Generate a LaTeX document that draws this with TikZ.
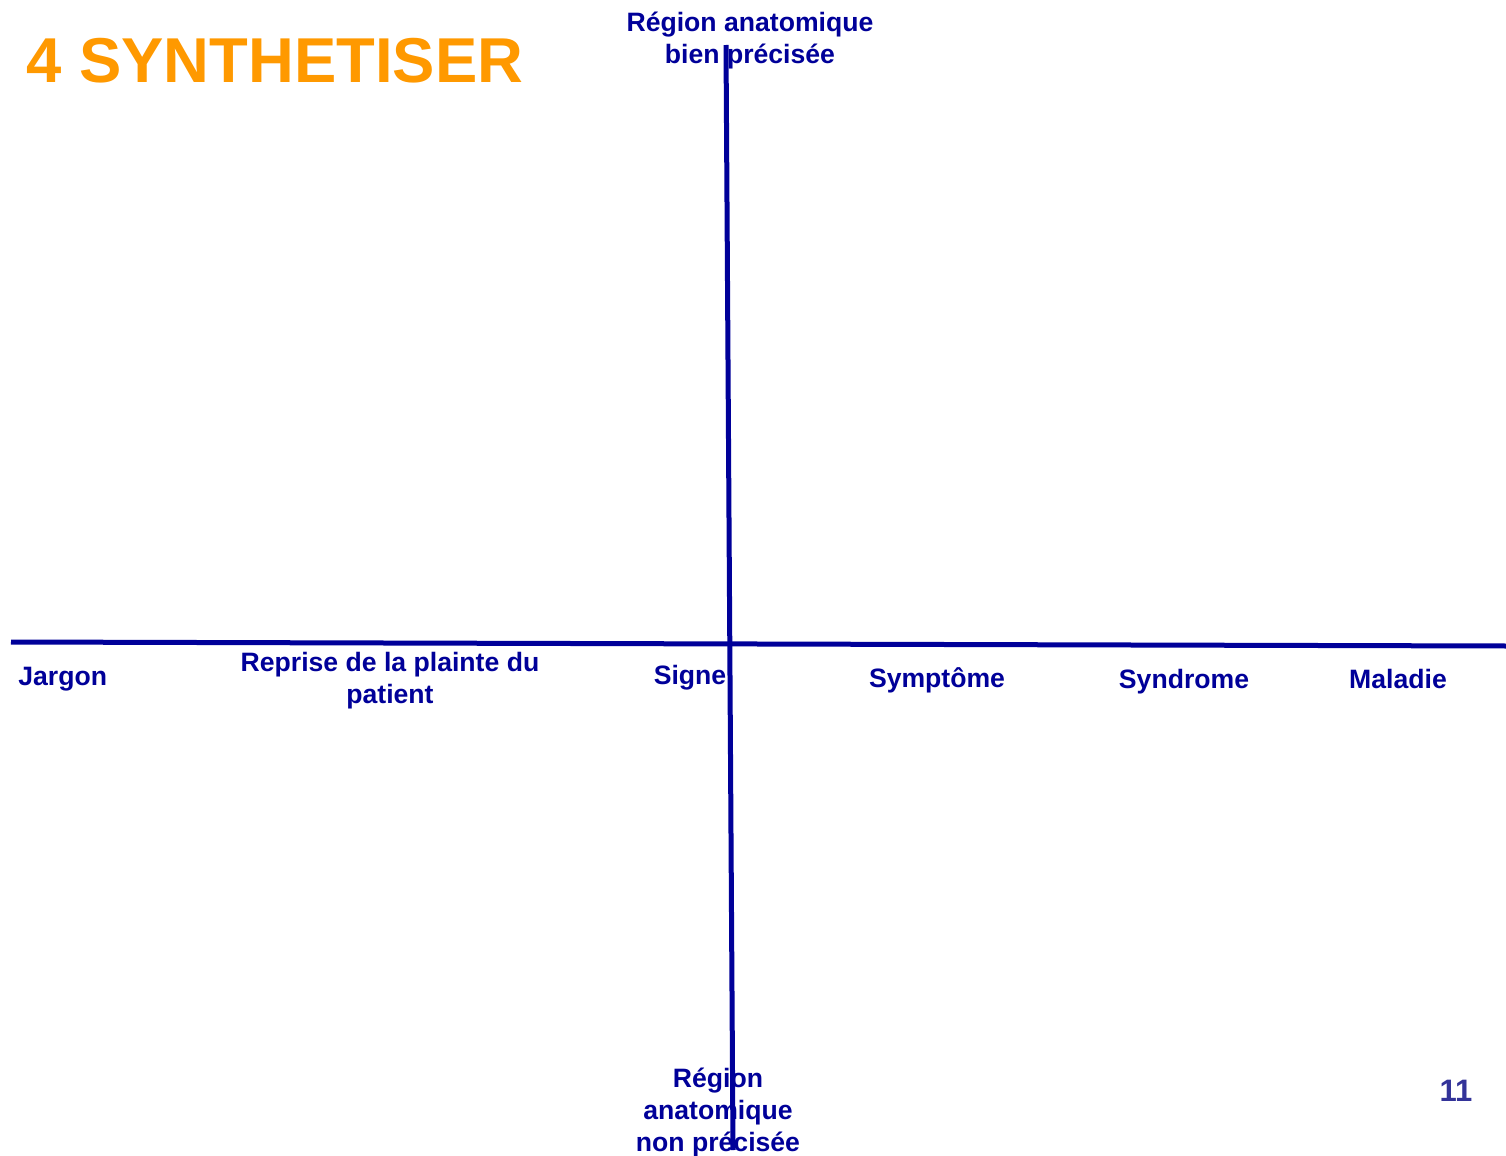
\documentclass[tikz,border=0pt]{standalone}
\usepackage{fontspec}
\setmainfont{Liberation Sans}
\definecolor{axisblue}{HTML}{000099}
\definecolor{titleorange}{HTML}{FF9900}
\definecolor{pagenum}{HTML}{333399}
\begin{document}
\begin{tikzpicture}[x=0.5pt,y=-0.5pt,
  lbl/.style={text=axisblue,font=\bfseries\fontsize{13.3}{16}\selectfont,align=center,inner sep=0pt},
  axis/.style={draw=axisblue,line width=2.5pt}]
\useasboundingbox[fill=white] (0,0) rectangle (1506,1156);
\coordinate (hl) at (11,642);
\coordinate (hr) at (1506,646);
\coordinate (vt) at (726,45);
\coordinate (vb) at (733,1150);
\draw[axis] (hl) -- (hr);
\draw[axis] (vt) -- (vb);
\node[anchor=base west,text=titleorange,font=\bfseries\fontsize{31.7}{36}\selectfont,inner sep=0pt] (title) at (26,83) {4 SYNTHETISER};
\node[lbl] (top) at (750,41) {Région anatomique\\bien précisée};
\node[lbl,anchor=west] (jargon) at (18,679) {Jargon};
\node[lbl] (reprise) at (390,681) {Reprise de la plainte du\\patient};
\node[lbl] (signe) at (690,678) {Signe};
\node[lbl] (symptome) at (937,680) {Symptôme};
\node[lbl] (syndrome) at (1184,682) {Syndrome};
\node[lbl] (maladie) at (1398,679) {Maladie};
\node[lbl] (bottom) at (718,1112) {Région\\anatomique\\non précisée};
\node[lbl,text=pagenum,font=\bfseries\fontsize{15.5}{18}\selectfont] (page) at (1456,1091) {11};
\end{tikzpicture}
\end{document}
